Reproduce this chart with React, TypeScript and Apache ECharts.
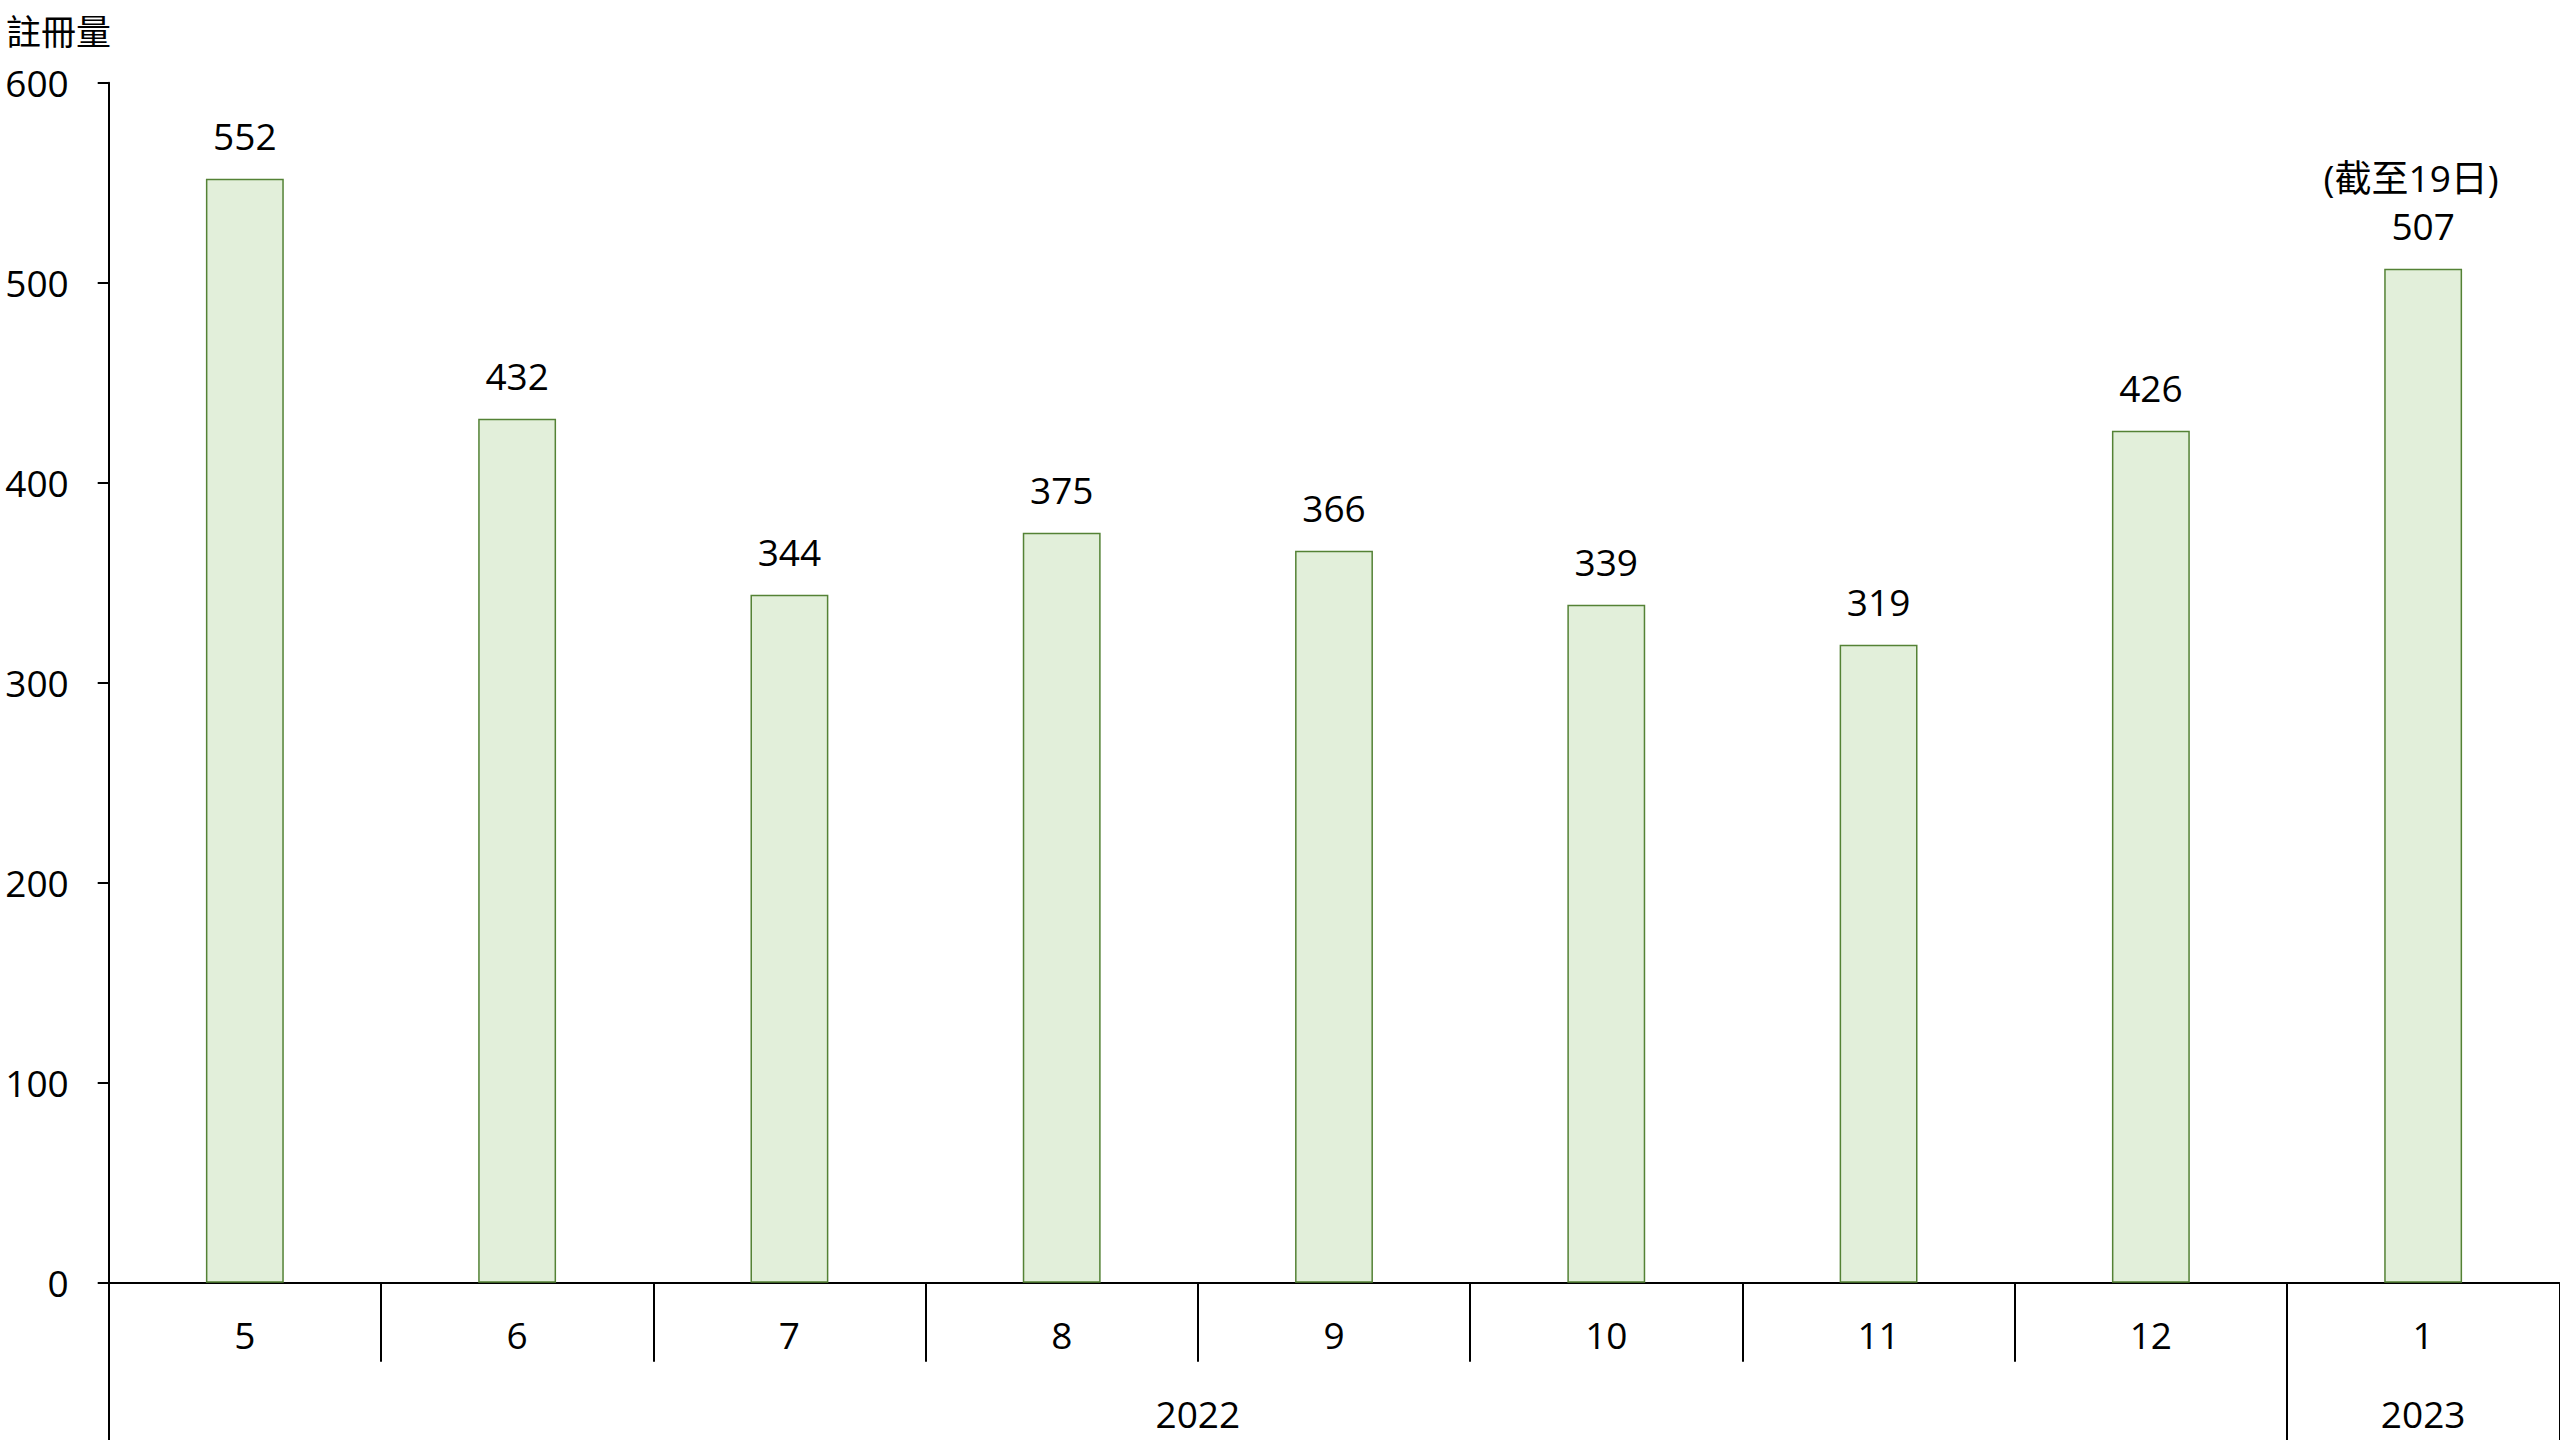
import React, { useEffect, useRef } from "react";
import * as echarts from "echarts";

const months = ["5", "6", "7", "8", "9", "10", "11", "12", "1"];
const values = [552, 432, 344, 375, 366, 339, 319, 426, 507];
const notes = ["", "", "", "", "", "", "", "", "(截至19日)"];
const years = ["2022", "2023"];
const yearSpans = [8, 1];
const yTicks = [0, 100, 200, 300, 400, 500, 600];
const yTitle = "註冊量";

const FONT = "'Open Sans', 'Noto Sans CJK TC', sans-serif";

export default function App() {
  const ref = useRef<HTMLDivElement>(null);
  useEffect(() => {
    if (!ref.current) return;
    const chart = echarts.init(ref.current, undefined, { renderer: "svg" });

    const bounds: number[] = [0];
    const centers: number[] = [];
    let acc = 0;
    yearSpans.forEach((s) => {
      centers.push(acc + s / 2);
      acc += s;
      bounds.push(acc);
    });

    chart.setOption({
      animation: false,
      title: {
        text: yTitle,
        left: 6,
        top: 14,
        padding: 0,
        textStyle: { fontFamily: FONT, fontSize: 35, lineHeight: 35, fontWeight: "normal", color: "#000" },
      },
      grid: {
        left: 108.7,
        right: 0.7,
        top: 82.7,
        bottom: 157.3,
        containLabel: false,
        outerBoundsMode: "none",
      },
      xAxis: [
        {
          type: "category",
          data: months,
          position: "bottom",
          axisLine: { show: true, lineStyle: { color: "#000", width: 2 } },
          axisTick: { show: true, interval: 0, length: 79, lineStyle: { color: "#000", width: 2 } },
          axisLabel: { interval: 0, margin: 33, fontFamily: FONT, fontSize: 37, color: "#000", lineHeight: 38 },
          splitLine: { show: false },
        },
        {
          type: "value",
          min: 0,
          max: months.length,
          position: "bottom",
          axisLine: { show: false },
          axisTick: {
            show: true,
            customValues: bounds,
            length: 158,
            lineStyle: { color: "#000", width: 2 },
          },
          axisLabel: {
            show: true,
            customValues: centers,
            formatter: (v: number) => {
              const i = centers.findIndex((c) => Math.abs(c - v) < 1e-6);
              return i >= 0 ? years[i] : "";
            },
            margin: 112,
            fontFamily: FONT,
            fontSize: 37,
            color: "#000",
            lineHeight: 38,
          },
          splitLine: { show: false },
        },
      ],
      yAxis: {
        type: "value",
        min: yTicks[0],
        max: yTicks[yTicks.length - 1],
        interval: 100,
        axisLine: { show: true, lineStyle: { color: "#000", width: 2 } },
        axisTick: { show: true, length: 11, lineStyle: { color: "#000", width: 2 } },
        axisLabel: { margin: 40, fontFamily: FONT, fontSize: 37, color: "#000", lineHeight: 38 },
        splitLine: { show: false },
      },
      series: [
        {
          type: "bar",
          xAxisIndex: 0,
          data: values,
          barWidth: "28.6%",
          itemStyle: { color: "#E2EFDA", borderColor: "#548235", borderWidth: 1.5 },
          label: {
            show: true,
            position: "top",
            distance: 19,
            fontFamily: FONT,
            fontSize: 37,
            color: "#000",
            lineHeight: 48,
            formatter: (p: any) => {
              const n = notes[p.dataIndex];
              return n ? "{note|" + n + "}\n" + p.value : String(p.value);
            },
            rich: {
              note: {
                fontFamily: FONT,
                fontSize: 37,
                color: "#000",
                lineHeight: 48,
                padding: [0, 24, 0, 0],
              },
            },
          },
        },
      ],
    });
    return () => chart.dispose();
  }, []);
  return (
    <div
      ref={ref}
      style={{ position: "fixed", left: 0, top: 0, width: 2560, height: 1440, background: "#fff" }}
    />
  );
}
